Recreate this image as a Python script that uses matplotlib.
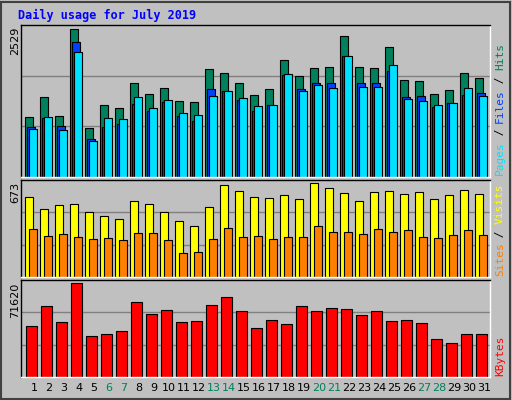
import matplotlib
matplotlib.use("Agg")
import matplotlib.pyplot as plt
from matplotlib.patches import Rectangle

days = list(range(1, 32))
weekend = [6, 7, 13, 14, 20, 21, 27, 28]
hits = [1023,1368,1040,2529,833,1230,1178,1615,1426,1529,1305,1288,1857,1788,1615,1408,1512,2012,1736,1874,1891,2414,1891,1874,2236,1667,1650,1426,1494,1788,1701]
files = [851,1012,868,2322,650,856,908,1253,1132,1288,1046,960,1512,1477,1322,1132,1236,1753,1512,1615,1615,2081,1615,1615,1822,1374,1391,1201,1270,1408,1443]
pages = [822,1023,805,2150,615,1012,994,1374,1184,1322,1098,1063,1391,1477,1357,1219,1236,1770,1477,1581,1529,2081,1546,1546,1926,1339,1305,1236,1270,1529,1391]
visits = [571,483,512,519,468,439,417,541,519,461,402,366,497,658,614,571,563,585,556,673,636,600,541,607,614,592,607,556,585,622,592]
sites = [344,293,307,285,271,278,263,315,315,263,168,176,271,351,285,293,271,285,285,366,322,322,307,344,322,336,285,278,300,336,300]
kbytes = [38560,54300,41710,71620,31480,33050,34620,56660,48000,51150,41710,42490,55080,60590,50360,36980,43280,40130,54300,50360,52720,51940,47210,50360,42490,43280,40920,29120,25970,33050,33050]

W, H = 512, 400
fig = plt.figure(figsize=(5.12, 4.0), dpi=100, facecolor="#C0C0C0")
mono = "DejaVu Sans Mono"

def mkax(top, bot):
    ax = fig.add_axes([20.5 / W, 1 - bot / H, (490 - 20.5) / W, (bot - top) / H])
    ax.set_facecolor("#C0C0C0")
    ax.set_xlim(-0.3, 31.0)
    ax.set_xticks([]); ax.set_yticks([])
    for s in ax.spines.values():
        s.set_color("black"); s.set_linewidth(1)
    ax.spines["bottom"].set_color("white"); ax.spines["right"].set_color("white")
    return ax

x = [d - 1 for d in days]
ek = dict(edgecolor="black", linewidth=0.8, align="edge")

a1 = mkax(25, 177)
m1 = max(hits) * 1.03
a1.set_ylim(0, m1)
for g in (m1 / 3, 2 * m1 / 3):
    a1.axhline(g, color="#808080", lw=1, zorder=0)
a1.bar(x, hits, 0.53, color="#00805C", **ek)
a1.bar([v + 0.13 for v in x], files, 0.53, color="#0040FF", **ek)
a1.bar([v + 0.27 for v in x], pages, 0.53, color="#00E0FF", **ek)

a2 = mkax(180, 277)
m2 = max(visits) * 1.03
a2.set_ylim(0, m2)
for g in (m2 / 3, 2 * m2 / 3):
    a2.axhline(g, color="#808080", lw=1, zorder=0)
a2.bar(x, visits, 0.53, color="#FFFF00", **ek)
a2.bar([v + 0.27 for v in x], sites, 0.53, color="#FF8000", **ek)

a3 = mkax(280, 377)
m3 = max(kbytes) * 1.03
a3.set_ylim(0, m3)
for g in (m3 / 3, 2 * m3 / 3):
    a3.axhline(g, color="#808080", lw=1, zorder=0)
a3.bar([v + 0.07 for v in x], kbytes, 0.7, color="#FF0000", **ek)

for d, v in zip(days, x):
    fig.text((25 + 15 * v + 9) / W, 1 - 388 / H, str(d), ha="center", va="center",
             fontsize=8, family="DejaVu Sans",
             color="#00805C" if d in weekend else "black")

fig.text(18 / W, 1 - 15 / H, "Daily usage for July 2019", ha="left", va="center",
         fontsize=8.5, family=mono, weight="bold", color="#0000FF")

for txt, y in (("2529", 27), ("673", 182), ("71620", 283)):
    fig.text(15 / W, 1 - y / H, txt, rotation=90, ha="center", va="top", fontsize=8, family="DejaVu Sans")

def rlab(parts, ybot):
    y = ybot
    for t, c in parts:
        fig.text(500 / W, 1 - y / H, t, rotation=90, ha="center", va="bottom",
                 fontsize=8, family=mono, color=c)
        y -= len(t) * 6.3 + 1

rlab([("Pages", "#00E0FF"), (" / ", "black"), ("Files", "#0040FF"), (" / ", "black"), ("Hits", "#00805C")], 175)
rlab([("Sites", "#FF8000"), (" / ", "black"), ("Visits", "#FFFF00")], 276)
rlab([("KBytes", "#FF0000")], 376)

fig.patches.append(Rectangle((0.002, 0.002), 0.994, 0.994, transform=fig.transFigure,
                             fill=False, edgecolor="#404040", lw=1.5))
fig.savefig("out.png", dpi=100, facecolor="#C0C0C0")
